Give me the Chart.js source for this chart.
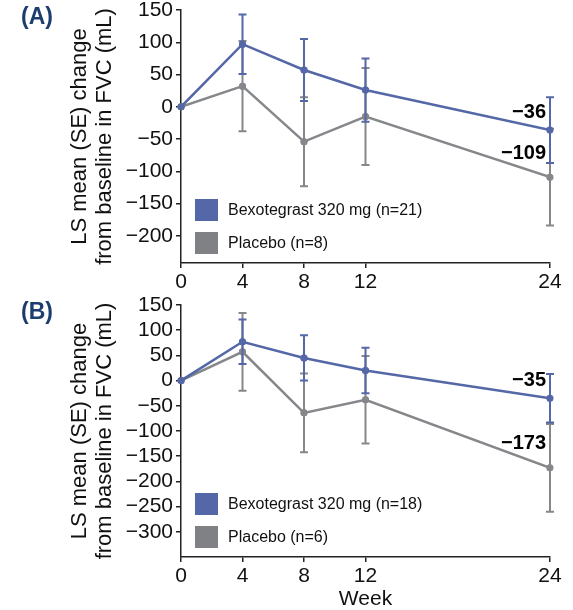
<!DOCTYPE html>
<html><head><meta charset="utf-8">
<script src="https://cdn.jsdelivr.net/npm/chart.js@4"></script>
<style>
html,body{margin:0;padding:0;background:#fff;}
#wrap{position:relative;width:573px;height:610px;overflow:hidden;background:#fff;}
canvas{position:absolute;left:0;}
</style></head>
<body><div id="wrap">
<canvas id="cA" width="573" height="292" style="top:0;width:573px;height:292px"></canvas>
<canvas id="cB" width="573" height="320" style="top:290px;width:573px;height:320px"></canvas>
</div>
<script>
// ---- data ----
const weeks = [0, 4, 8, 12, 24];
const xTicks = [0, 4, 8, 12, 24];
const seriesNames = ['Bexotegrast 320 mg', 'Placebo'];
const nA = [21, 8];
const nB = [18, 6];
const bexoMeanA = [0, 97, 57, 26, -36];
const bexoSeA = [0, 46, 48, 49, 51];
const placeboMeanA = [0, 32, -54, -15, -109];
const placeboSeA = [0, 70, 69, 75, 75];
const bexoMeanB = [0, 77, 45, 20, -35];
const bexoSeB = [0, 44, 45, 45, 48];
const placeboMeanB = [0, 57, -64, -38, -173];
const placeboSeB = [0, 77, 78, 87, 87];
const yTicksA = [150, 100, 50, 0, -50, -100, -150, -200];
const yTicksB = [150, 100, 50, 0, -50, -100, -150, -200, -250, -300];
const yRangeA = [-242, 150];
const yRangeB = [-350, 150];
const yTitle = ['LS mean (SE) change', 'from baseline in FVC (mL)'];
const xTitle = 'Week';

// ---- styles ----
const FAM = '"Liberation Sans", Arial, Helvetica, sans-serif';
const BLUE = '#5467a7';
const GRAY = '#85878a';
const GRAY_BOX = '#808184';
const INK = '#111111';
const LETTER = '#1c3e6e';

function fmt(v) { return v < 0 ? '\u2212' + Math.abs(v) : String(v); }

const extras = {
  id: 'extras',
  afterDatasetDraw(chart, args) {
    const ds = chart.data.datasets[args.index];
    const se = ds.se; if (!se) return;
    const xs = chart.scales.x, ys = chart.scales.y, ctx = chart.ctx;
    ctx.save();
    ctx.strokeStyle = ds.borderColor; ctx.lineWidth = 2;
    ds.data.forEach((p, i) => {
      if (!se[i]) return;
      const x = xs.getPixelForValue(p.x);
      const y1 = ys.getPixelForValue(p.y + se[i]);
      const y2 = ys.getPixelForValue(p.y - se[i]);
      ctx.beginPath();
      ctx.moveTo(x, y1); ctx.lineTo(x, y2);
      ctx.moveTo(x - 4, y1); ctx.lineTo(x + 4, y1);
      ctx.moveTo(x - 4, y2); ctx.lineTo(x + 4, y2);
      ctx.stroke();
    });
    ctx.fillStyle = ds.borderColor;
    ds.data.forEach((p) => {
      ctx.beginPath();
      ctx.arc(xs.getPixelForValue(p.x), ys.getPixelForValue(p.y), 3.5, 0, Math.PI * 2);
      ctx.fill();
    });
    ctx.restore();
  },
  afterDraw(chart, args, o) {
    const ctx = chart.ctx, ca = chart.chartArea;
    const xs = chart.scales.x, ys = chart.scales.y;
    ctx.save();
    // legend
    const items = chart.data.datasets.map(d => ({ label: d.label, color: d.boxColor }));
    const tops = [ca.bottom - 64, ca.bottom - 31];
    items.forEach((it, i) => {
      ctx.fillStyle = it.color;
      ctx.fillRect(ca.left + 14, tops[i], 23, 22);
      ctx.fillStyle = INK;
      ctx.font = '16px ' + FAM;
      ctx.textAlign = 'left'; ctx.textBaseline = 'middle';
      ctx.fillText(it.label, ca.left + 47, tops[i] + 12);
    });
    // end value labels
    ctx.font = 'bold 20px ' + FAM;
    ctx.textAlign = 'right'; ctx.textBaseline = 'middle';
    const offs = [18, 24];
    chart.data.datasets.forEach((d, i) => {
      const last = d.data[d.data.length - 1];
      ctx.fillStyle = '#000';
      ctx.fillText(fmt(last.y), xs.getPixelForValue(last.x) - 4, ys.getPixelForValue(last.y) - offs[i]);
    });
    // panel letter
    ctx.font = 'bold 23px ' + FAM;
    ctx.fillStyle = LETTER;
    ctx.textAlign = 'left'; ctx.textBaseline = 'middle';
    ctx.fillText(o.letter, 21, ca.top + 8);
    ctx.restore();
  }
};

function makeChart(id, c) {
  const axisCommon = {
    grid: { drawOnChartArea: false, drawTicks: true, tickLength: 5, color: '#222', lineWidth: 1.5 },
    border: { color: '#222', width: 1.5 },
  };
  return new Chart(document.getElementById(id), {
    type: 'line',
    data: {
      datasets: [
        { label: seriesNames[0] + ' (n=' + c.n[0] + ')', data: weeks.map((w, i) => ({ x: w, y: c.bexo[i] })), se: c.bexoSe,
          borderColor: BLUE, backgroundColor: BLUE, boxColor: BLUE, borderWidth: 2.5, pointRadius: 3.5, pointBorderWidth: 0, tension: 0 },
        { label: seriesNames[1] + ' (n=' + c.n[1] + ')', data: weeks.map((w, i) => ({ x: w, y: c.pbo[i] })), se: c.pboSe,
          borderColor: GRAY, backgroundColor: GRAY, boxColor: GRAY_BOX, borderWidth: 2.5, pointRadius: 3.5, pointBorderWidth: 0, tension: 0 }
      ]
    },
    options: {
      responsive: false, animation: false, devicePixelRatio: 1,
      layout: { padding: { top: c.top, right: 23, left: 0, bottom: 0 } },
      plugins: { legend: { display: false }, tooltip: { enabled: false }, extras: { letter: c.letter } },
      scales: {
        x: Object.assign({}, axisCommon, {
          type: 'linear', min: 0, max: 24,
          afterBuildTicks: s => { s.ticks = xTicks.map(v => ({ value: v })); },
          afterFit: s => { s.height = c.xh; },
          ticks: { font: { size: 21, family: FAM }, color: INK, padding: 2, maxRotation: 0, autoSkip: false },
          title: c.showX ? { display: true, text: xTitle, font: { size: 21, family: FAM, lineHeight: 1.0 }, color: INK, padding: 0 } : { display: false }
        }),
        y: Object.assign({}, axisCommon, {
          type: 'linear', min: c.yr[0], max: c.yr[1],
          afterBuildTicks: s => { s.ticks = c.yt.map(v => ({ value: v })); },
          afterFit: s => { s.width = 181; s.paddingTop = 0; s.paddingBottom = 0; },
          ticks: { font: { size: 21, family: FAM }, color: INK, padding: 3, autoSkip: false, callback: v => fmt(v) },
          title: { display: true, text: yTitle, font: { size: 22, family: FAM, lineHeight: 1.136 }, color: INK, padding: { top: 67, bottom: 0 } }
        })
      }
    },
    plugins: [extras]
  });
}

makeChart('cA', { n: nA, bexo: bexoMeanA, bexoSe: bexoSeA, pbo: placeboMeanA, pboSe: placeboSeA,
  yr: yRangeA, yt: yTicksA, top: 10, xh: 29, showX: false, letter: '(A)' });
makeChart('cB', { n: nB, bexo: bexoMeanB, bexoSe: bexoSeB, pbo: placeboMeanB, pboSe: placeboSeB,
  yr: yRangeB, yt: yTicksB, top: 15, xh: 53, showX: true, letter: '(B)' });
</script>
</body></html>
